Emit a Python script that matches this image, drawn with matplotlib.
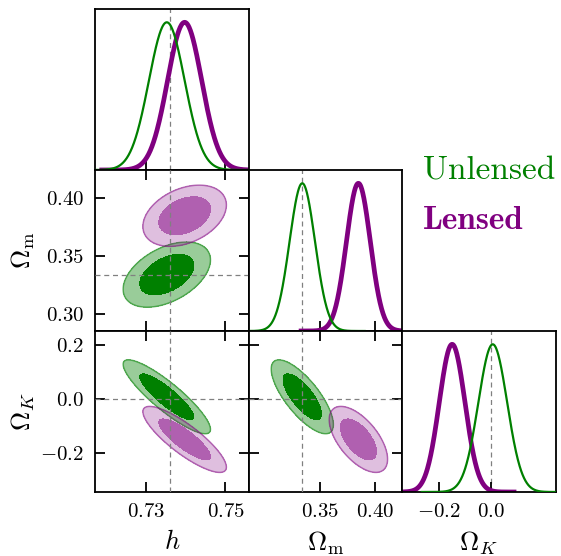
import numpy as np
import matplotlib
matplotlib.use("Agg")
import matplotlib.pyplot as plt

plt.rcParams.update({
    "font.family": "serif",
    "font.serif": ["cmr10"],
    "mathtext.fontset": "cm",
    "axes.formatter.use_mathtext": True,
    "axes.unicode_minus": True,
})

# parameters: h, Omega_m, Omega_K
labels = [r"$h$", r"$\Omega_{\rm m}$", r"$\Omega_K$"]
truth = [0.736, 0.334, 0.0]
limits = [(0.7171, 0.7558), (0.2855, 0.4245), (-0.345, 0.252)]
xticks = [[0.73, 0.75], [0.35, 0.40], [-0.2, 0.0]]
yticks = [[], [0.30, 0.35, 0.40], [-0.2, 0.0, 0.2]]

# posterior summaries
names = ["Unlensed", "Lensed"]
colors = ["green", "purple"]
means_unlensed = [0.7352, 0.3342, 0.008]
sigmas_unlensed = [0.0045, 0.0115, 0.056]
corr_unlensed = [[1.0, 0.45, -0.88],
                 [0.45, 1.0, -0.75],
                 [-0.88, -0.75, 1.0]]
means_lensed = [0.7397, 0.3850, -0.150]
sigmas_lensed = [0.0043, 0.0108, 0.050]
corr_lensed = [[1.0, 0.35, -0.84],
               [0.35, 1.0, -0.60],
               [-0.84, -0.60, 1.0]]

samples = [
    dict(mean=means_unlensed, sigma=sigmas_unlensed, corr=corr_unlensed,
         lw=1.6, a_in=1.0, a_out=0.4),
    dict(mean=means_lensed, sigma=sigmas_lensed, corr=corr_lensed,
         lw=3.4, a_in=0.62, a_out=0.25),
]

W, H = 561, 556
fig = plt.figure(figsize=(W / 100, H / 100), dpi=100)

col_left = [95, 248.5, 402]
row_top = [9, 170, 331]
aw, ah = 153.5, 161

chi2_levels = [2.30, 5.99]  # 68% and 95% in 2D


def make_ax(i, j):
    x0 = col_left[j] / W
    y0 = 1 - (row_top[i] + ah) / H
    return fig.add_axes([x0, y0, aw / W, ah / H])


for i in range(3):
    for j in range(i + 1):
        ax = make_ax(i, j)
        for sp in ax.spines.values():
            sp.set_linewidth(1.3)
        ax.set_xlim(limits[j])
        ax.set_xticks(xticks[j])

        if i == j:
            # 1D marginals
            for k in [1, 0]:
                s = samples[k]
                m, sg = s["mean"][j], s["sigma"][j]
                x = np.linspace(m - 5 * sg, m + 5 * sg, 400)
                y = np.exp(-0.5 * ((x - m) / sg) ** 2)
                ax.plot(x, y, color=colors[k], lw=s["lw"], zorder=3 - k,
                        solid_capstyle="butt")
            ax.axvline(truth[j], color="0.5", ls="--", lw=0.9, dashes=(4, 3), zorder=1)
            ax.set_ylim(0, 1.09)
            ax.set_yticks([])
            ax.tick_params(direction="in", length=7, width=1.3, top=False,
                           left=False, right=False, labelbottom=(i == 2),
                           labelsize=15, pad=8)
        else:
            ax.set_ylim(limits[i])
            ax.set_yticks(yticks[i])
            gx = np.linspace(*limits[j], 300)
            gy = np.linspace(*limits[i], 300)
            X, Y = np.meshgrid(gx, gy)
            for k, s in enumerate(samples):
                mx, my = s["mean"][j], s["mean"][i]
                sx, sy = s["sigma"][j], s["sigma"][i]
                r = s["corr"][i][j]
                dx, dy = (X - mx) / sx, (Y - my) / sy
                chi2 = (dx ** 2 - 2 * r * dx * dy + dy ** 2) / (1 - r ** 2)
                ax.contourf(X, Y, chi2, levels=[0, chi2_levels[1]],
                            colors=[colors[k]], alpha=s["a_out"], zorder=2 + 2 * k)
                ax.contourf(X, Y, chi2, levels=[0, chi2_levels[0]],
                            colors=[colors[k]],
                            alpha=1 - (1 - s["a_in"]) / (1 - s["a_out"]),
                            zorder=2 + 2 * k)
                ax.contour(X, Y, chi2, levels=[chi2_levels[1]], colors=[colors[k]],
                           alpha=0.5, linewidths=1.1, zorder=2 + 2 * k)
            ax.axvline(truth[j], color="0.5", ls="--", lw=0.9, dashes=(4, 3), zorder=6)
            ax.axhline(truth[i], color="0.5", ls="--", lw=0.9, dashes=(4, 3), zorder=6)
            ax.tick_params(direction="in", length=7, width=1.3, top=True, right=True,
                           labelbottom=(i == 2), labelleft=(j == 0),
                           labelsize=15, pad=8)
        if i == 2:
            ax.set_xlabel(labels[j], fontsize=19)
            ax.xaxis.set_label_coords(0.5, -0.235)
        if j == 0 and i > 0:
            ax.set_ylabel(labels[i], fontsize=19)
            ax.yaxis.set_label_coords(-0.38, 0.5)

fig.text(423 / W, 1 - 179 / H, names[0], color=colors[0], fontsize=24,
         va="baseline", ha="left")
fig.text(423 / W, 1 - 229 / H, names[1], color=colors[1], fontsize=24,
         family="cmb10", va="baseline", ha="left")

fig.savefig("out.png", dpi=100)
